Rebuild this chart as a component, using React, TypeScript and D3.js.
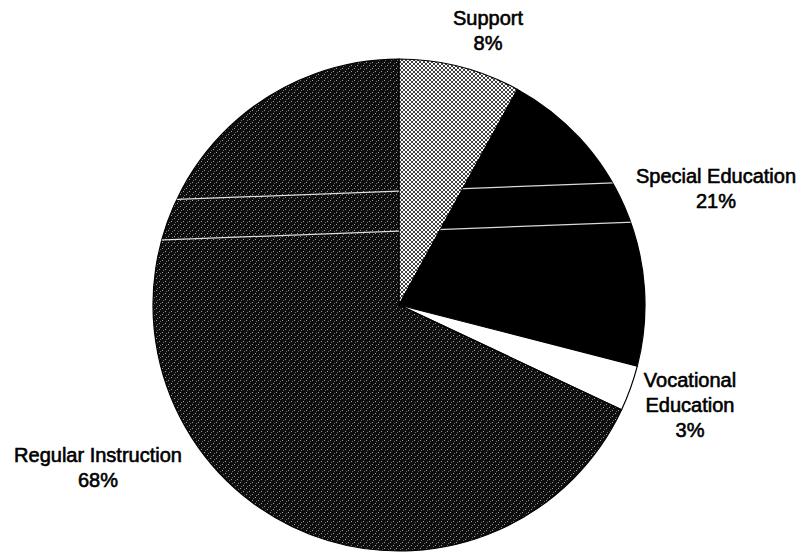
import React from "react";
import * as d3 from "d3";

// Budget shares by program, clockwise from 12 o'clock
const categories = ["Support", "Special Education", "Vocational Education", "Regular Instruction"];
const shares = [8, 21, 3, 68];
// Label lines for each slice (the last line is the percentage)
const labelLines = [
  ["Support", "8%"],
  ["Special Education", "21%"],
  ["Vocational", "Education", "3%"],
  ["Regular Instruction", "68%"],
];

const W = 808;
const H = 553;
const cx = 399;
const cy = 305;
const R = 246;

// Fill for each slice
const fills = ["url(#dots)", "#000", "#fff", "url(#grain)"];
// First-baseline anchor of each label block
const labelAnchors = [
  { x: 488, y: 25 },
  { x: 716, y: 183 },
  { x: 690, y: 387 },
  { x: 98, y: 462 },
];
const lineGap = 25;

// Two faint light streaks running across the dark slices
const streaks = [
  { x1: 150, y1: 200.5, x2: 650, y2: 181.5 },
  { x1: 150, y1: 240.5, x2: 650, y2: 221.5 },
];
// Slices the streaks show on
const streakSlices = [1, 3];

type Datum = { name: string; value: number; i: number };

export default function App() {
  const data: Datum[] = categories.map((c, i) => ({ name: c, value: shares[i], i }));
  const pie = d3
    .pie<Datum>()
    .sort(null)
    .value((d) => d.value)
    .startAngle(0)
    .endAngle(2 * Math.PI);
  const arcs = pie(data);
  const arc = d3.arc<d3.PieArcDatum<Datum>>().innerRadius(0).outerRadius(R);

  return (
    <div style={{ position: "fixed", left: 0, top: 0, width: W, height: H, background: "#fff" }}>
      <svg width={W} height={H} viewBox={`0 0 ${W} ${H}`} style={{ display: "block" }}>
        <defs>
          <pattern id="dots" width={4} height={4} patternUnits="userSpaceOnUse">
            <rect width={4} height={4} fill="#fff" />
            <circle cx={1} cy={1} r={1.0} fill="#000" />
            <circle cx={3} cy={3} r={1.0} fill="#000" />
          </pattern>
          <pattern id="grain" width={6} height={6} patternUnits="userSpaceOnUse">
            <rect width={6} height={6} fill="#0e0e0e" />
            <rect x={0} y={0} width={1} height={1} fill="#a0a0a0" />
            <rect x={3} y={3} width={1} height={1} fill="#a0a0a0" />
            <rect x={1} y={4} width={1} height={1} fill="#6a6a6a" />
            <rect x={4} y={1} width={1} height={1} fill="#6a6a6a" />
          </pattern>
          <clipPath id="streakClip">
            {arcs
              .filter((a) => streakSlices.includes(a.data.i))
              .map((a) => (
                <path key={a.data.name} d={arc(a) || ""} transform={`translate(${cx},${cy})`} />
              ))}
          </clipPath>
        </defs>

        <g transform={`translate(${cx},${cy})`}>
          {arcs.map((a) => (
            <path
              key={a.data.name}
              d={arc(a) || ""}
              fill={fills[a.data.i]}
              stroke="#000"
              strokeWidth={1.2}
            />
          ))}
        </g>

        <g clipPath="url(#streakClip)">
          {streaks.map((s, i) => (
            <line
              key={i}
              x1={s.x1}
              y1={s.y1}
              x2={s.x2}
              y2={s.y2}
              stroke="#fff"
              strokeWidth={1.3}
              opacity={0.85}
            />
          ))}
        </g>

        <g
          fontFamily="'Liberation Sans', Arial, Helvetica, sans-serif"
          fontSize={20}
          fill="#000"
          stroke="#000"
          strokeWidth={0.6}
          textAnchor="middle"
        >
          {labelLines.map((lines, i) => (
            <text key={categories[i]}>
              {lines.map((t, j) => (
                <tspan key={j} x={labelAnchors[i].x} y={labelAnchors[i].y + j * lineGap}>
                  {t}
                </tspan>
              ))}
            </text>
          ))}
        </g>
      </svg>
    </div>
  );
}
